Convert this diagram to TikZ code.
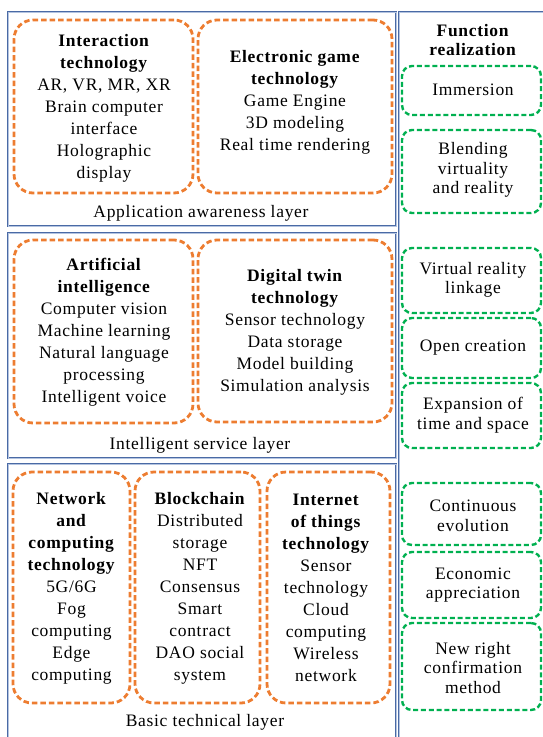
\documentclass[tikz,border=0pt]{standalone}
\usepackage{fontspec}
\setmainfont{Liberation Serif}[LetterSpace=4]
\definecolor{lyrblue}{HTML}{4A6AA5}
\definecolor{lyrlight}{HTML}{B4C4E0}
\definecolor{orng}{HTML}{ED7D31}
\definecolor{grn}{HTML}{00B050}
\tikzset{
  layerbox/.style={draw=lyrblue, line width=0.6pt, double=lyrlight, double distance=0.8pt},
  obox/.style={draw=orng, line width=2.8pt, dash pattern=on 5.5pt off 3pt, rounded corners=19pt, inner sep=0pt},
  gbox/.style={draw=grn, line width=2.4pt, dash pattern=on 5pt off 2.8pt, rounded corners=10pt, inner sep=0pt, minimum width=139pt},
  txt/.style={align=center, inner sep=0pt, font=\fontsize{17.5}{22}\selectfont},
  gtxt/.style={align=center, inner sep=0pt, font=\fontsize{17.5}{19.5}\selectfont},
}
\begin{document}
\begin{tikzpicture}[x=1pt,y=-1pt]
\useasboundingbox (0,0) rectangle (543,737);
\clip (0,0) rectangle (543,737);
% layers
\draw[layerbox] (8,12) rectangle (396,226);
\draw[layerbox] (8,233) rectangle (396,458);
\draw[layerbox] (8,464) rectangle (396,760);
\draw[layerbox] (399,12) rectangle (570,760);
% application awareness layer
\node[obox, minimum width=179pt, minimum height=173pt] (bA) at (103.5,106.5) {};
\node[obox, minimum width=194pt, minimum height=173pt] (bB) at (295,106.5) {};
\node[txt] (tA) at (104,108.5) {\textbf{Interaction}\\\textbf{technology}\\AR, VR, MR, XR\\Brain computer\\interface\\Holographic\\display};
\node[txt] (tB) at (295,102) {\textbf{Electronic game}\\\textbf{technology}\\Game Engine\\3D modeling\\Real time rendering};
\node[txt] (l1) at (201,213) {Application awareness layer};
% intelligent service layer
\node[obox, minimum width=179pt, minimum height=183pt] (bC) at (103.5,331.5) {};
\node[obox, minimum width=194pt, minimum height=182pt] (bD) at (295,331) {};
\node[txt] (tC) at (104,332) {\textbf{Artificial}\\\textbf{intelligence}\\Computer vision\\Machine learning\\Natural language\\processing\\Intelligent voice};
\node[txt] (tD) at (295,332) {\textbf{Digital twin}\\\textbf{technology}\\Sensor technology\\Data storage\\Model building\\Simulation analysis};
\node[txt] (l2) at (200,445) {Intelligent service layer};
% basic technical layer
\node[obox, minimum width=117pt, minimum height=231pt] (bE) at (71.5,587.5) {};
\node[obox, minimum width=125pt, minimum height=231pt] (bF) at (197.5,587.5) {};
\node[obox, minimum width=123pt, minimum height=231pt] (bG) at (328.5,587.5) {};
\node[txt] (tE) at (71.5,588) {\textbf{Network}\\\textbf{and}\\\textbf{computing}\\\textbf{technology}\\5G/6G\\Fog\\computing\\Edge\\computing};
\node[txt] (tF) at (200,588) {\textbf{Blockchain}\\Distributed\\storage\\NFT\\Consensus\\Smart\\contract\\DAO social\\system};
\node[txt] (tG) at (326,588) {\textbf{Internet}\\\textbf{of things}\\\textbf{technology}\\Sensor\\technology\\Cloud\\computing\\Wireless\\network};
\node[txt] (l3) at (205,722) {Basic technical layer};
% function realization
\node[gtxt] (fT) at (473,40) {\textbf{Function}\\\textbf{realization}};
\node[gbox, minimum height=49pt] (gH) at (471.5,90.5) {};
\node[gtxt] (tH) at (473,90) {Immersion};
\node[gbox, minimum height=83pt] (gI) at (471.5,171.5) {};
\node[gtxt] (tI) at (473,170) {Blending\\virtuality\\and reality};
\node[gbox, minimum height=65pt] (gJ) at (471.5,280.5) {};
\node[gtxt] (tJ) at (473,280) {Virtual reality\\linkage};
\node[gbox, minimum height=60pt] (gK) at (471.5,348) {};
\node[gtxt] (tK) at (473,348) {Open creation};
\node[gbox, minimum height=65pt] (gL) at (471.5,415.5) {};
\node[gtxt] (tL) at (473,415) {Expansion of\\time and space};
\node[gbox, minimum height=62pt] (gM) at (471.5,514) {};
\node[gtxt] (tM) at (473,516) {Continuous\\evolution};
\node[gbox, minimum height=66pt] (gN) at (471.5,585) {};
\node[gtxt] (tN) at (473,585) {Economic\\appreciation};
\node[gbox, minimum height=87pt] (gO) at (471.5,666.5) {};
\node[gtxt] (tO) at (473,668) {New right\\confirmation\\method};
\end{tikzpicture}
\end{document}
